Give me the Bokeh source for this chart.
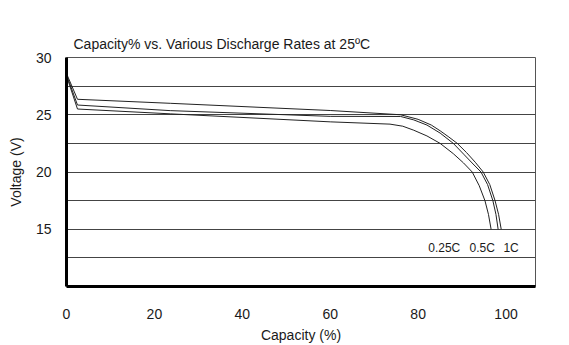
from bokeh.plotting import figure
from bokeh.models import Range1d, FixedTicker, ColumnDataSource
from bokeh.embed import file_html
from bokeh.resources import INLINE
from bokeh.core.properties import value

# ---- data ----
cap_a = [0, 2.5, 23.6, 60, 76, 80, 83, 85, 87, 88.9, 91, 93, 94.8, 96.3, 97.5, 98.3, 98.9]
volt_a = [28.6, 26.35, 26.0, 25.37, 25.0, 24.6, 24.1, 23.6, 23.05, 22.5, 21.7, 20.85, 20.0, 18.9, 17.5, 16.3, 15.0]

cap_b = [0, 2.5, 23.6, 60, 76, 79, 82, 85, 88, 90.5, 92.5, 94.3, 95.8, 97, 97.7, 98.2]
volt_b = [28.5, 25.85, 25.36, 24.86, 24.85, 24.55, 24.1, 23.4, 22.5, 21.5, 20.7, 20.0, 18.9, 17.5, 16.3, 15.0]

cap_c = [0, 2.5, 23.6, 60, 73.6, 76.5, 79, 82, 85, 88, 90.3, 92.3, 93.9, 95.2, 96, 96.6]
volt_c = [28.4, 25.5, 25.08, 24.38, 24.18, 24.0, 23.65, 23.15, 22.5, 21.6, 20.8, 20.0, 18.8, 17.5, 16.3, 15.0]

rate_labels = ["0.25C", "0.5C", "1C"]
rate_label_x = [82.3, 91.7, 99.4]
rate_label_y = [13.4, 13.4, 13.4]

x_ticks = [0, 20, 40, 60, 80, 100]
y_grid = [12.5, 15, 17.5, 20, 22.5, 25, 27.5, 30]
y_labeled = [15, 20, 25, 30]

title_text = "Capacity% vs. Various Discharge Rates at 25ºC"
x_title = "Capacity (%)"
y_title = "Voltage (V)"

FONT = "Liberation Sans"
TXT = "#1a1a1a"

p = figure(width=569, height=345, output_backend="svg", toolbar_location=None,
           x_range=Range1d(0, 106.7), y_range=Range1d(10, 30),
           min_border_left=66, min_border_right=34, min_border_top=57, min_border_bottom=53)

p.background_fill_color = "white"
p.border_fill_color = "white"
p.outline_line_color = "#555555"
p.outline_line_width = 1

# title
p.title.text = title_text
p.title.align = "left"
p.title.offset = 7
p.title.standoff = 12
p.title.text_font = FONT
p.title.text_font_size = "14px"
p.title.text_font_style = "normal"
p.title.text_color = TXT

# grid
p.xgrid.grid_line_color = None
p.ygrid.ticker = FixedTicker(ticks=y_grid)
p.ygrid.grid_line_color = "#444444"
p.ygrid.grid_line_width = 1

# axes
for ax in (p.xaxis[0], p.yaxis[0]):
    ax.axis_line_color = "black"
    ax.axis_line_width = 3
    ax.major_tick_line_color = None
    ax.minor_tick_line_color = None
    ax.major_label_text_font = FONT
    ax.major_label_text_font_size = "14px"
    ax.major_label_text_color = TXT
    ax.axis_label_text_font = FONT
    ax.axis_label_text_font_size = "14px"
    ax.axis_label_text_font_style = "normal"
    ax.axis_label_text_color = TXT

p.xaxis.ticker = FixedTicker(ticks=x_ticks)
p.xaxis.major_label_standoff = 16
p.xaxis.axis_label = x_title
p.xaxis.axis_label_standoff = 5

p.yaxis.ticker = FixedTicker(ticks=y_grid)
p.yaxis.major_label_overrides = {t: ("" if t not in y_labeled else str(int(t))) for t in y_grid}
p.yaxis.major_label_standoff = 9
p.yaxis.axis_label = y_title
p.yaxis.axis_label_standoff = 9

# curves
for cx, cy in ((cap_a, volt_a), (cap_b, volt_b), (cap_c, volt_c)):
    p.line(cx, cy, line_color="#222222", line_width=1)

# rate labels
src = ColumnDataSource(dict(x=rate_label_x, y=rate_label_y, t=rate_labels))
p.text(x="x", y="y", text="t", source=src, text_font=value(FONT), text_font_size="12px",
       text_color=TXT, text_baseline="middle", text_align="left")

open("out.html", "w").write(file_html(p, INLINE))
